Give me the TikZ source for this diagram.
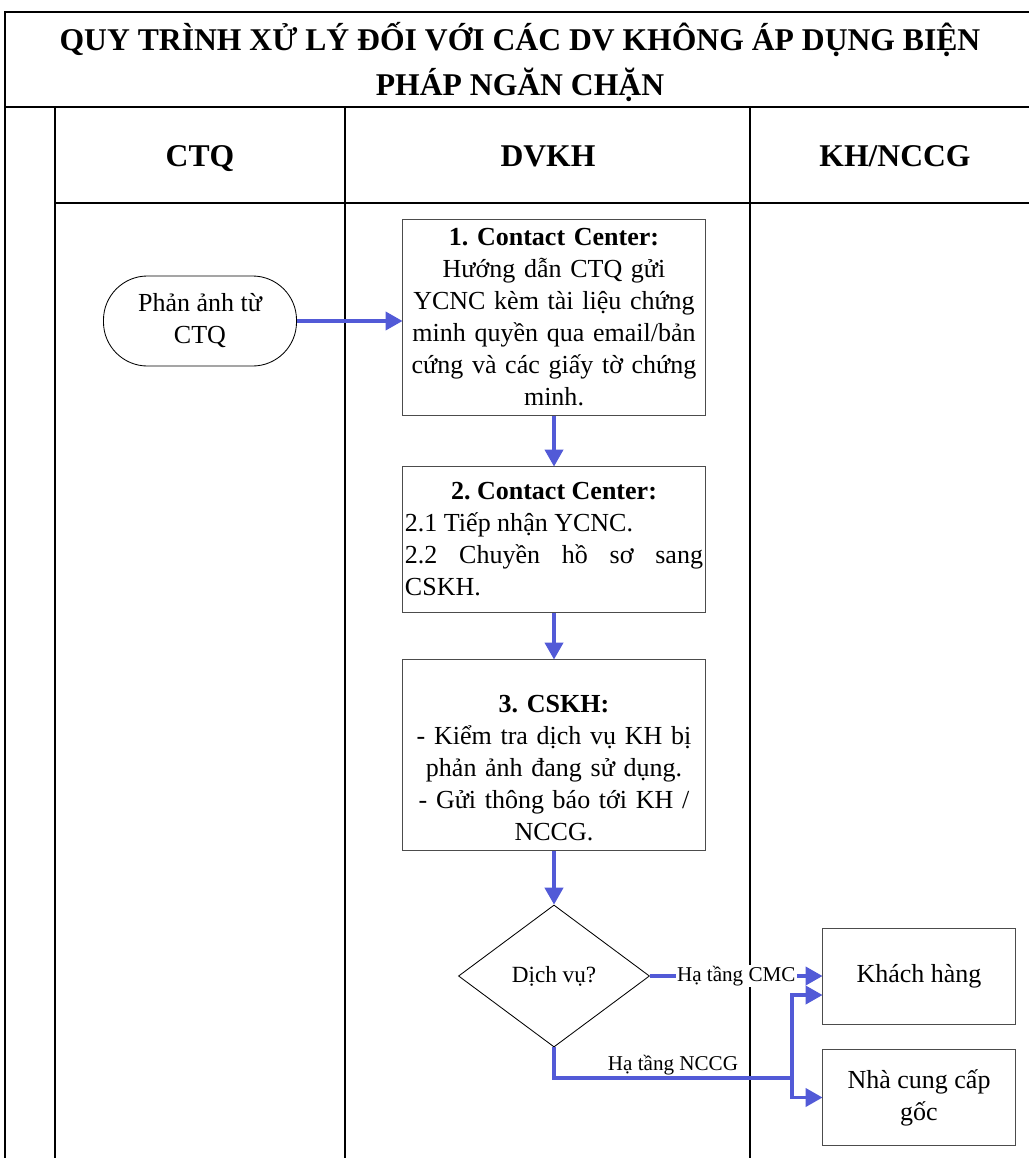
\documentclass[tikz,border=0pt]{standalone}
\usepackage{fontspec}
\setmainfont{Liberation Serif}
\usetikzlibrary{shapes.geometric, arrows.meta, positioning}
\definecolor{flowblue}{RGB}{82,90,215}
\setlength{\parindent}{0pt}
\frenchspacing

\begin{document}
\begin{tikzpicture}[
  x=0.025cm, y=-0.025cm,
  font=\fontsize{18.5}{22.76}\selectfont,
  lane/.style={line width=1.4pt},
  head/.style={font=\fontsize{22.5}{32}\selectfont\bfseries, align=center},
  startbox/.style={rectangle, draw, rounded corners=1.1cm, line width=0.6pt,
                   minimum width=4.825cm, minimum height=2.25cm, align=center, inner sep=0pt},
  box/.style={rectangle, draw=black!70, line width=0.7pt, minimum width=7.55cm,
              text width=7.45cm, inner xsep=0.05cm, inner ysep=0pt},
  decision/.style={diamond, draw, line width=0.6pt, minimum width=4.775cm,
                   minimum height=3.55cm, inner sep=0pt, font=\fontsize{16.5}{20}\selectfont},
  endbox/.style={rectangle, draw=black!70, line width=0.7pt, minimum width=4.8cm,
                 minimum height=2.4cm, align=center},
  arr/.style={-{Triangle[length=12pt,width=13pt]}, line width=2.2pt, flowblue},
  lbl/.style={font=\fontsize{15}{18}\selectfont, inner sep=1pt, text=black}
]
\useasboundingbox (0,0) rectangle (1028,1158);

% Frame and lanes
\draw[lane] (5,1160) -- (5,12) -- (1030,12);
\draw[lane] (5,107) -- (1030,107);
\draw[lane] (55,203) -- (1030,203);
\draw[lane] (55,107) -- (55,1160);
\draw[lane] (345,107) -- (345,1160);
\draw[lane] (750,107) -- (750,1160);

% Headings
\node[head] (title)  at (520,62)  {QUY TRÌNH XỬ LÝ ĐỐI VỚI CÁC DV KHÔNG ÁP DỤNG BIỆN\\PHÁP NGĂN CHẶN};
\node[head, anchor=base] (ctq)    at (200,166) {CTQ};
\node[head, anchor=base] (dvkh)   at (548,166) {DVKH};
\node[head, anchor=base] (khnccg) at (895,166) {KH/NCCG};

% Nodes
\node[startbox] (phananh) at (200,321) {Phản ảnh từ\\CTQ};
\node[box, minimum height=4.875cm, align=center] (b1) at (554,317.5)
  {\textbf{1. Contact Center:}\\Hướng dẫn CTQ gửi\\YCNC kèm tài liệu chứng\\minh quyền qua email/bản\\cứng và các giấy tờ chứng\\minh.};
\node[box, minimum height=3.625cm, align=justify] (b2) at (554,539.5)
  {{\centering\textbf{2. Contact Center:}\par}2.1 Tiếp nhận YCNC.\par
   {\tolerance=10000\hbadness=10000 2.2 Chuyền hồ sơ sang CSKH.\par}};
\node[box, minimum height=4.75cm, align=center] (b3) at (554,755)
  {\rule{0pt}{1.1cm}\textbf{3. CSKH:}\\- Kiểm tra dịch vụ KH bị\\phản ảnh đang sử dụng.\\- Gửi thông báo tới KH /\\NCCG.};
\node[decision] (dichvu) at (554,976) {Dịch vụ?};
\node[endbox] (khach) at (919,976)    {Khách hàng};
\node[endbox] (ncc)   at (919,1097.5) {Nhà cung cấp\\gốc};

% Helper coordinates
\coordinate (split) at (792,1078);

% Main flow
\draw[arr] (phananh.east) -- (phananh.east -| b1.west);
\draw[arr] (b1.south) -- (b2.north);
\draw[arr] (b2.south) -- (b3.north);
\draw[arr] (b3.south) -- (dichvu.north);

% Decision branches
\draw[arr] (dichvu.east) -- node[lbl, fill=white] {Hạ tầng CMC} (khach.west);
\draw[line width=2.2pt, flowblue] (dichvu.south) |- node[lbl, above, pos=0.75] {Hạ tầng NCCG} (split);
\draw[arr] (split) |- ([yshift=-0.475cm]khach.west);
\draw[arr] (split) |- (ncc.west);

\end{tikzpicture}
\end{document}
